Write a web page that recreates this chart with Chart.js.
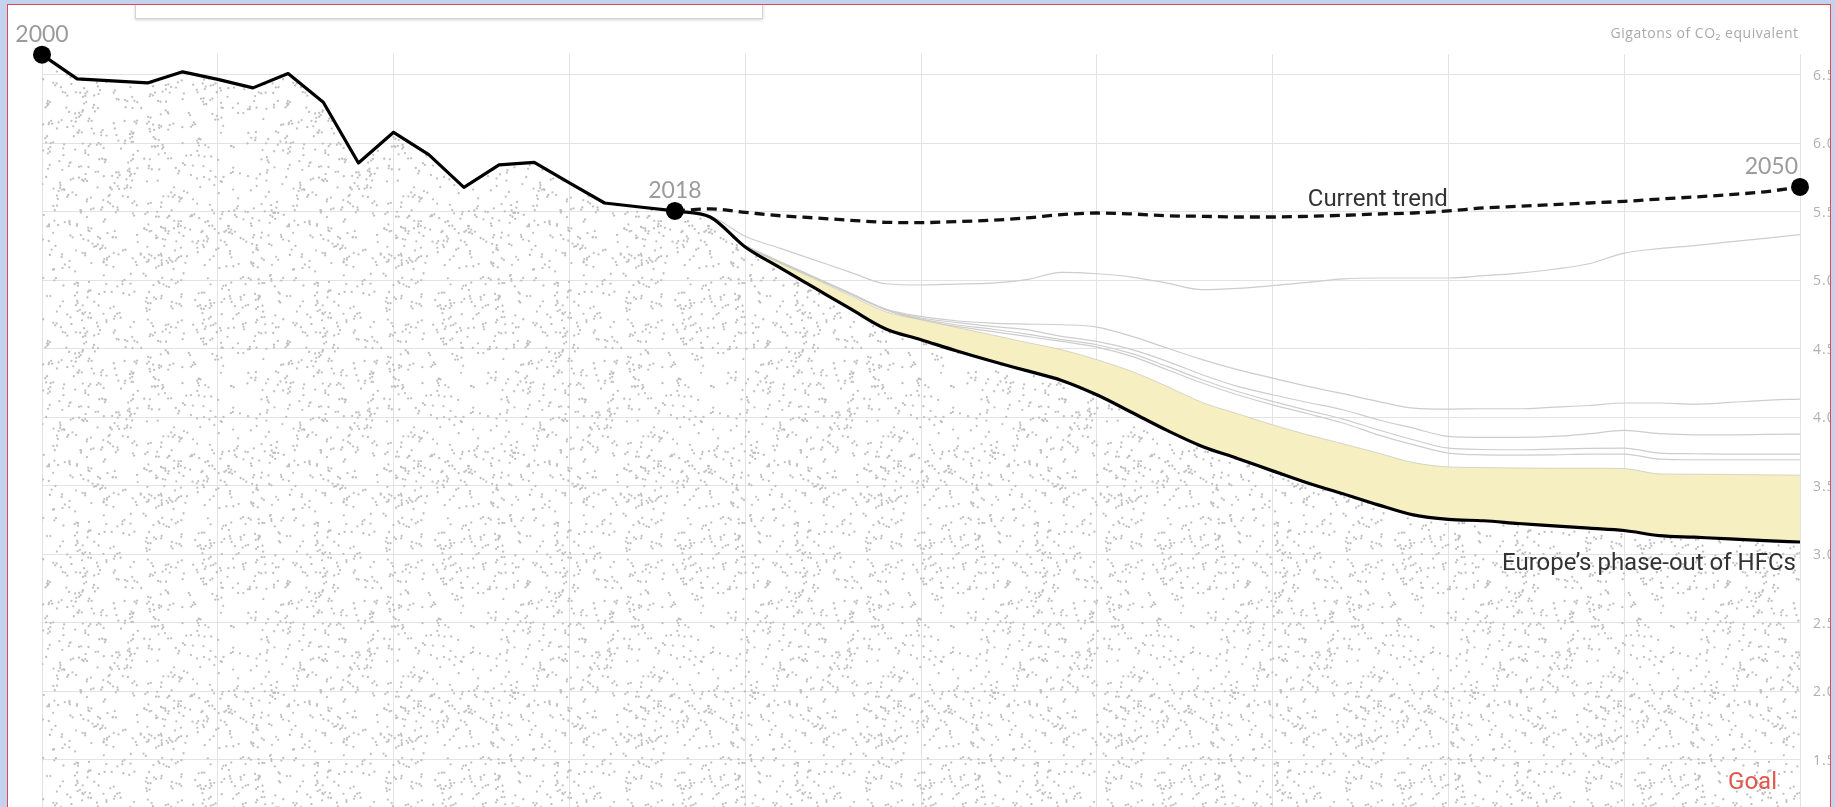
<!DOCTYPE html>
<html>
<head>
<meta charset="utf-8">
<title>HFC emissions</title>
<script src="https://cdn.jsdelivr.net/npm/chart.js@4.4.1/dist/chart.umd.min.js"></script>
<style>
  html, body { margin: 0; padding: 0; overflow: hidden; background: #c3d2ee; }
  #frame {
    position: absolute; left: 7px; top: 4px; width: 1822px; height: 812px;
    border: 1px solid #e4484d; border-bottom: none; background: #fff; overflow: hidden;
  }
  #wrap { position: absolute; left: 0; top: 0; width: 1842px; height: 802px; }
  #box {
    position: absolute; left: 127px; top: -12px; width: 626px; height: 24px;
    border: 1px solid #d4d4d4; background: #fff; box-shadow: 0 1px 3px rgba(0,0,0,0.18);
  }
</style>
</head>
<body>
<div id="frame">
  <div id="wrap"><canvas id="c"></canvas></div>
  <div id="box"></div>
</div>
<script>
// Historical emissions, gigatons of CO2 equivalent
const histYears = [2000, 2001, 2002, 2003, 2004, 2005, 2006, 2007, 2008, 2009,
                   2010, 2011, 2012, 2013, 2014, 2015, 2016, 2017, 2018];
const histValues = [6.645, 6.469, 6.454, 6.439, 6.52, 6.465, 6.403, 6.507, 6.298, 5.855,
                    6.079, 5.916, 5.677, 5.841, 5.86, 5.71, 5.563, 5.534, 5.505];

// Projections 2018-2050
const projYears = [2018, 2019, 2020, 2021, 2022, 2023, 2024, 2025, 2026, 2027, 2028, 2029,
                   2030, 2031, 2032, 2033, 2034, 2035, 2036, 2037, 2038, 2039,
                   2040, 2041, 2042, 2043, 2044, 2045, 2046, 2047, 2048, 2049, 2050];
const hfcPhaseOut = [5.505, 5.461, 5.242, 5.09, 4.94, 4.79, 4.644, 4.566, 4.485, 4.41, 4.34, 4.269,
                     4.164, 4.035, 3.904, 3.787, 3.70, 3.609, 3.52, 3.442, 3.361, 3.288,
                     3.255, 3.245, 3.225, 3.208, 3.191, 3.174, 3.137, 3.125, 3.113, 3.10, 3.09];
const currentTrend = [5.505, 5.52, 5.495, 5.47, 5.454, 5.437, 5.422, 5.42, 5.427, 5.437, 5.454, 5.478,
                      5.49, 5.483, 5.47, 5.466, 5.461, 5.461, 5.466, 5.473, 5.483, 5.49,
                      5.505, 5.527, 5.539, 5.551, 5.563, 5.575, 5.592, 5.607, 5.624, 5.645, 5.68];
const scenarioA = [5.505, 5.47, 5.32, 5.232, 5.145, 5.057, 4.974, 4.965, 4.972, 4.979, 5.004, 5.057,
                   5.047, 5.023, 4.979, 4.931, 4.94, 4.96, 4.984, 5.009, 5.016, 5.016,
                   5.016, 5.033, 5.052, 5.08, 5.12, 5.198, 5.23, 5.252, 5.279, 5.305, 5.332];

// Scenarios that start splitting off in 2020
const bandYears = [2020, 2021, 2022, 2023, 2024, 2025, 2026, 2027, 2028, 2029,
                   2030, 2031, 2032, 2033, 2034, 2035, 2036, 2037, 2038, 2039,
                   2040, 2041, 2042, 2043, 2044, 2045, 2046, 2047, 2048, 2049, 2050];
const bandTop = [5.242, 5.123, 5.006, 4.887, 4.77, 4.711, 4.656, 4.602, 4.546, 4.493,
                 4.42, 4.334, 4.225, 4.108, 4.026, 3.945, 3.872, 3.807, 3.739, 3.67,
                 3.638, 3.633, 3.63, 3.628, 3.628, 3.626, 3.587, 3.585, 3.583, 3.58, 3.578];
const scenarioB = [5.25, 5.135, 5.02, 4.905, 4.79, 4.736, 4.704, 4.687, 4.68, 4.675,
                   4.658, 4.59, 4.505, 4.42, 4.347, 4.286, 4.225, 4.172, 4.116, 4.067,
                   4.06, 4.062, 4.062, 4.074, 4.086, 4.104, 4.104, 4.096, 4.108, 4.123, 4.133];
const scenarioC = [5.25, 5.13, 5.015, 4.9, 4.785, 4.724, 4.692, 4.663, 4.639, 4.59,
                   4.553, 4.493, 4.408, 4.31, 4.225, 4.164, 4.108, 4.055, 3.982, 3.921,
                   3.86, 3.853, 3.853, 3.86, 3.88, 3.904, 3.88, 3.872, 3.872, 3.875, 3.877];
const scenarioD = [5.25, 5.13, 5.015, 4.9, 4.785, 4.716, 4.675, 4.644, 4.607, 4.566,
                   4.529, 4.464, 4.371, 4.274, 4.188, 4.116, 4.05, 3.987, 3.909, 3.836,
                   3.775, 3.765, 3.763, 3.768, 3.773, 3.775, 3.739, 3.734, 3.731, 3.731, 3.731];
const scenarioE = [5.25, 5.13, 5.015, 4.9, 4.785, 4.707, 4.663, 4.626, 4.59, 4.553,
                   4.512, 4.444, 4.347, 4.25, 4.164, 4.091, 4.026, 3.958, 3.872, 3.80,
                   3.739, 3.726, 3.724, 3.726, 3.731, 3.731, 3.695, 3.69, 3.69, 3.69, 3.69];

// Axis ticks
const xGridYears = [2000, 2005, 2010, 2015, 2020, 2025, 2030, 2035, 2040, 2045, 2050];
const yTickValues = [1.5, 2.0, 2.5, 3.0, 3.5, 4.0, 4.5, 5.0, 5.5, 6.0, 6.5];

const GRID = '#e3e3e3';
const YELLOW = '#f6efc2';
const SCEN = '#cdcdcd';

function pts(xs, ys) {
    return xs.map((x, i) => ({ x: x, y: ys[i] }));
}

// speckled texture for the area under the emissions line
function makeStipple(ctx) {
    const s = 240;
    const c = document.createElement('canvas');
    c.width = s; c.height = s;
    const g = c.getContext('2d');
    let seed = 12345;
    const rnd = () => { seed = (seed * 16807) % 2147483647; return seed / 2147483647; };
    const dot = (px, py) => {
        for (let ox = -1; ox <= 1; ox++) {
            for (let oy = -1; oy <= 1; oy++) {
                g.beginPath();
                g.arc(px + ox * s, py + oy * s, 1.15, 0, Math.PI * 2);
                g.fill();
            }
        }
    };
    g.fillStyle = '#bfbfbf';
    for (let i = 0; i < 720; i++) {
        const px = rnd() * s, py = rnd() * s;
        dot(px, py);
        if (rnd() < 0.22) {
            const a = rnd() * Math.PI * 2;
            dot(px + Math.cos(a) * 2.6, py + Math.sin(a) * 2.6);
        }
    }
    return ctx.createPattern(c, 'repeat');
}

const labelsPlugin = {
    id: 'labels',
    afterDatasetsDraw(chart) {
        const { ctx, chartArea } = chart;
        const x = chart.scales.x, y = chart.scales.y;
        ctx.save();

        // y tick labels on the right, clipped by the frame
        ctx.font = '14px "Open Sans"';
        ctx.letterSpacing = '1px';
        ctx.fillStyle = '#b0b0b0';
        ctx.textAlign = 'left';
        ctx.textBaseline = 'middle';
        yTickValues.forEach(v => {
            ctx.fillText(v.toFixed(1), chartArea.right + 13, y.getPixelForValue(v) + 1);
        });

        ctx.letterSpacing = '0px';
        ctx.textBaseline = 'alphabetic';

        // year labels over the dots
        ctx.font = '23px Lato';
        ctx.fillStyle = '#9b9b9b';
        ctx.textAlign = 'center';
        ctx.fillText('2000', x.getPixelForValue(histYears[0]), y.getPixelForValue(histValues[0]) - 13);
        ctx.fillText('2018', x.getPixelForValue(2018), y.getPixelForValue(histValues[18]) - 13);
        ctx.textAlign = 'right';
        ctx.fillText('2050', x.getPixelForValue(2050) - 2, y.getPixelForValue(currentTrend[32]) - 13);

        // series labels
        ctx.font = '24px Roboto';
        ctx.fillStyle = '#333';
        ctx.textAlign = 'left';
        ctx.fillText('Current trend', x.getPixelForValue(2036), y.getPixelForValue(5.54));
        ctx.textAlign = 'right';
        ctx.fillText('Europe\u2019s phase-out of HFCs', x.getPixelForValue(2050) - 4, y.getPixelForValue(2.887));

        ctx.fillStyle = '#e2574c';
        ctx.fillText('Goal', x.getPixelForValue(2050) - 23, y.getPixelForValue(1.29));

        // unit label, spread to the width it has in the original
        const unit = 'Gigatons of CO\u2082 equivalent';
        ctx.font = '14px "Open Sans"';
        ctx.fillStyle = '#aaa';
        const w = ctx.measureText(unit).width;
        const spacing = Math.max(0, (188 - w) / unit.length);
        ctx.letterSpacing = spacing.toFixed(2) + 'px';
        ctx.fillText(unit, x.getPixelForValue(2050) - 2 + spacing, y.getPixelForValue(6.766));
        ctx.restore();
    }
};

document.addEventListener('DOMContentLoaded', () => {
    const canvas = document.getElementById('c');
    const stipple = makeStipple(canvas.getContext('2d'));

    new Chart(canvas, {
        type: 'line',
        data: {
            datasets: [
                {   // 0: end point markers
                    data: [
                        { x: histYears[0], y: histValues[0] },
                        { x: 2018, y: histValues[18] },
                        { x: 2050, y: currentTrend[32] }
                    ],
                    showLine: false,
                    pointRadius: 9,
                    pointBackgroundColor: '#000',
                    pointBorderWidth: 0,
                    clip: false
                },
                {   // 1: current trend
                    data: pts(projYears, currentTrend),
                    borderColor: '#111',
                    borderWidth: 3.3,
                    borderDash: [10, 6],
                    pointRadius: 0,
                    cubicInterpolationMode: 'monotone',
                    fill: false
                },
                {   // 2: history
                    data: pts(histYears, histValues),
                    borderColor: '#000',
                    borderWidth: 3.2,
                    borderJoinStyle: 'round',
                    pointRadius: 0,
                    tension: 0,
                    fill: 'start',
                    backgroundColor: stipple
                },
                {   // 3: Europe's phase-out of HFCs
                    data: pts(projYears, hfcPhaseOut),
                    borderColor: '#000',
                    borderWidth: 3.2,
                    borderJoinStyle: 'round',
                    pointRadius: 0,
                    cubicInterpolationMode: 'monotone',
                    fill: 'start',
                    backgroundColor: stipple
                },
                {   // 4: yellow band top
                    data: pts(bandYears, bandTop),
                    borderColor: 'rgba(190,190,180,0.6)',
                    borderWidth: 1,
                    pointRadius: 0,
                    cubicInterpolationMode: 'monotone',
                    fill: { target: 3 },
                    backgroundColor: YELLOW
                },
                { data: pts(projYears, scenarioA), borderColor: SCEN, borderWidth: 1.2, pointRadius: 0, cubicInterpolationMode: 'monotone', fill: false },
                { data: pts(bandYears, scenarioB), borderColor: SCEN, borderWidth: 1.2, pointRadius: 0, cubicInterpolationMode: 'monotone', fill: false },
                { data: pts(bandYears, scenarioC), borderColor: SCEN, borderWidth: 1.2, pointRadius: 0, cubicInterpolationMode: 'monotone', fill: false },
                { data: pts(bandYears, scenarioD), borderColor: SCEN, borderWidth: 1.2, pointRadius: 0, cubicInterpolationMode: 'monotone', fill: false },
                { data: pts(bandYears, scenarioE), borderColor: SCEN, borderWidth: 1.2, pointRadius: 0, cubicInterpolationMode: 'monotone', fill: false }
            ]
        },
        options: {
            responsive: true,
            maintainAspectRatio: false,
            animation: false,
            layout: { autoPadding: false, padding: { left: 34, top: 49, right: 0, bottom: 0 } },
            plugins: {
                legend: { display: false },
                tooltip: { enabled: false }
            },
            scales: {
                x: {
                    type: 'linear',
                    min: 2000,
                    max: 2050,
                    ticks: { display: false },
                    grid: { color: GRID, drawTicks: false },
                    border: { display: false },
                    afterBuildTicks(s) { s.ticks = xGridYears.map(v => ({ value: v })); },
                    afterFit(s) { s.height = 0; }
                },
                y: {
                    position: 'right',
                    min: 1.157,
                    max: 6.65,
                    ticks: { display: false },
                    grid: { color: GRID, drawTicks: false },
                    border: { display: false },
                    afterBuildTicks(s) { s.ticks = yTickValues.map(v => ({ value: v })); },
                    afterFit(s) { s.width = 50; }
                }
            }
        },
        plugins: [labelsPlugin]
    });
});
</script>
</body>
</html>
